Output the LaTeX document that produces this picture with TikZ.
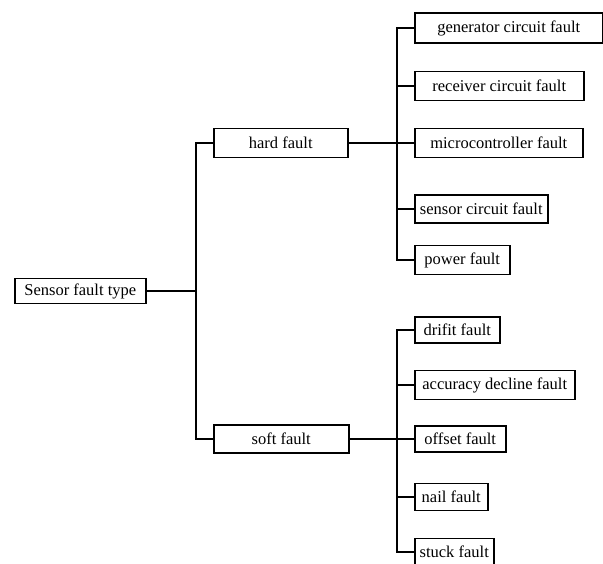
\documentclass[tikz,border=0pt]{standalone}
\usepackage{fontspec}
\setmainfont{Liberation Serif}
\usetikzlibrary{positioning}

\begin{document}
\begin{tikzpicture}[x=1pt, y=-1pt,
    fault/.style={draw, rectangle, anchor=west, line width=1.5pt, inner sep=0pt,
        minimum height=28pt, font=\fontsize{16.5}{19}\selectfont},
    link/.style={line width=1.8pt}]
    \useasboundingbox (0,0) rectangle (603,563);
    \clip (0,0) rectangle (603,563);

    % Nodes {root, hard, soft, leaves}
    \node [fault, minimum width=131pt, minimum height=25pt] (root)   at (14,291)  {Sensor fault type};
    \node [fault, minimum width=134pt, minimum height=29pt] (hard)   at (213,143) {hard fault};
    \node [fault, minimum width=135pt]                      (soft)   at (213,439) {soft fault};

    \node [fault, minimum width=188pt, minimum height=30pt] (gen)    at (414,28)  {generator circuit fault};
    \node [fault, minimum width=169pt, minimum height=29pt] (recv)   at (414,86)  {receiver circuit fault};
    \node [fault, minimum width=168pt, minimum height=29pt] (micro)  at (414,143) {microcontroller fault};
    \node [fault, minimum width=133pt]                      (sensc)  at (414,209) {sensor circuit fault};
    \node [fault, minimum width=95pt,  minimum height=29pt] (power)  at (414,260) {power fault};

    \node [fault, minimum width=85pt,  minimum height=26pt] (drift)  at (414,330) {drifit fault};
    \node [fault, minimum width=160pt, minimum height=29pt] (acc)    at (414,385) {accuracy decline fault};
    \node [fault, minimum width=91pt,  minimum height=26pt] (offset) at (414,439) {offset fault};
    \node [fault, minimum width=73pt,  minimum height=27pt] (nail)   at (414,497) {nail fault};
    \node [fault, minimum width=79pt,  minimum height=27pt] (stuck)  at (414,552) {stuck fault};

    % Junctions
    \coordinate (j1) at (196,291);
    \coordinate (j2) at (397,143);
    \coordinate (j3) at (397,439);

    % Paths
    \draw [link] (root.east) -- (j1);
    \draw [link] (hard.west) -| (j1) |- (soft.west);

    \draw [link] (hard.east) -- (micro.west);
    \draw [link] (gen.west) -| (j2) |- (power.west);
    \draw [link] (recv.west) -- (recv.west -| j2);
    \draw [link] (sensc.west) -- (sensc.west -| j2);

    \draw [link] (soft.east) -- (offset.west);
    \draw [link] (drift.west) -| (j3) |- (stuck.west);
    \draw [link] (acc.west) -- (acc.west -| j3);
    \draw [link] (nail.west) -- (nail.west -| j3);
\end{tikzpicture}
\end{document}
